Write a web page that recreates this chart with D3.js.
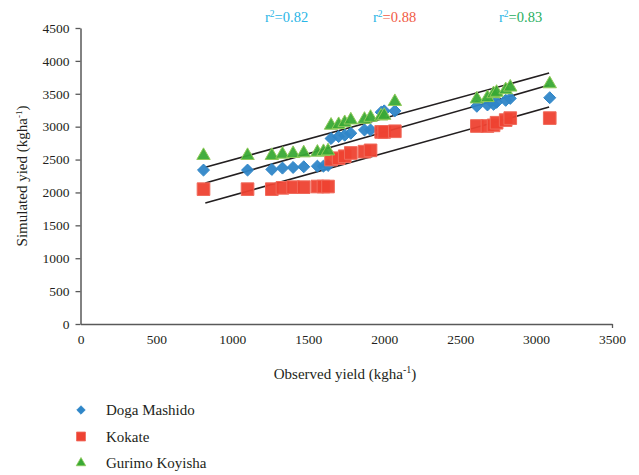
<!DOCTYPE html>
<html>
<head>
<meta charset="utf-8">
<script src="https://cdn.jsdelivr.net/npm/d3@7"></script>
<style>
  body { margin: 0; background: #fff; }
</style>
</head>
<body>
<svg id="chart" width="639" height="475"></svg>
<script>
// observed yield (x) shared by the three sites
var observed = [810, 1100, 1260, 1330, 1400, 1470, 1560, 1600, 1630, 1650, 1700, 1740, 1780, 1870, 1910, 1980, 2000, 2070, 2610, 2680, 2720, 2740, 2800, 2830, 3090];

var dogaMashido = [2340, 2340, 2350, 2370, 2380, 2390, 2400, 2400, 2410, 2820, 2850, 2870, 2900, 2950, 2950, 3220, 3240, 3240, 3310, 3330, 3340, 3370, 3400, 3430, 3440];
var kokate = [2050, 2050, 2050, 2070, 2080, 2080, 2090, 2090, 2090, 2500, 2520, 2550, 2600, 2620, 2640, 2920, 2920, 2930, 3010, 3010, 3020, 3060, 3100, 3130, 3130];
var gurimoKoyisha = [2560, 2560, 2560, 2580, 2590, 2600, 2610, 2620, 2630, 3020, 3030, 3060, 3100, 3110, 3140, 3160, 3170, 3380, 3420, 3440, 3500, 3520, 3560, 3600, 3650];

// fit lines [x0, y0, x1, y1]
var fitGurimo = [822, 2383, 3086, 3815];
var fitDoga = [822, 2143, 3086, 3632];
var fitKokate = [822, 1839, 3086, 3298];

var xTicks = [0, 500, 1000, 1500, 2000, 2500, 3000, 3500];
var yTicks = [0, 500, 1000, 1500, 2000, 2500, 3000, 3500, 4000, 4500];

var svg = d3.select("#chart");
var serif = "'Liberation Serif', 'Times New Roman', serif";

var x = d3.scaleLinear().domain([0, 3500]).range([80.5, 612]);
var y = d3.scaleLinear().domain([0, 4500]).range([324, 28]);

var axisColor = "#595959";

// axes
var xAxis = svg.append("g")
  .attr("transform", "translate(0,324)")
  .call(d3.axisBottom(x).tickValues(xTicks).tickFormat(d3.format("d")).tickSize(0).tickPadding(10).tickSizeOuter(0));
var yAxis = svg.append("g")
  .attr("transform", "translate(80.5,0)")
  .call(d3.axisLeft(y).tickValues(yTicks).tickFormat(d3.format("d")).tickSize(5).tickPadding(6).tickSizeOuter(0));

[xAxis, yAxis].forEach(function(a) {
  a.attr("font-family", serif).attr("font-size", 13.5);
  a.select(".domain").attr("stroke", axisColor).attr("stroke-width", 1.5);
  a.selectAll(".tick line").attr("stroke", axisColor).attr("stroke-width", 1.3);
  a.selectAll(".tick text").attr("fill", "#231f20");
});
xAxis.select(".tick:last-of-type").append("line")
  .attr("y2", 4).attr("stroke", axisColor).attr("stroke-width", 1.3);

// fit lines
[fitGurimo, fitDoga, fitKokate].forEach(function(f) {
  svg.append("line")
    .attr("x1", x(f[0])).attr("y1", y(f[1]))
    .attr("x2", x(f[2])).attr("y2", y(f[3]))
    .attr("stroke", "#231f20").attr("stroke-width", 1.6);
});

var series = [
  { name: "Doga Mashido", values: dogaMashido, symbol: d3.symbolDiamond2, size: 92, fill: "#2f86c8", stroke: "#2f86c8" },
  { name: "Kokate", values: kokate, symbol: d3.symbolSquare, size: 160, fill: "#ee4232", stroke: "#f06a5b" },
  { name: "Gurimo Koyisha", values: gurimoKoyisha, symbol: d3.symbolTriangle, size: 78, fill: "#39a935", stroke: "#8fca5a" }
];

series.forEach(function(s) {
  var sym = d3.symbol().type(s.symbol).size(s.size);
  svg.append("g").selectAll("path")
    .data(s.values)
    .join("path")
    .attr("d", sym)
    .attr("transform", function(d, i) {
      return "translate(" + x(observed[i]) + "," + y(d) + ")";
    })
    .attr("fill", s.fill)
    .attr("fill-opacity", 0.95)
    .attr("stroke", s.stroke)
    .attr("stroke-width", 1);
});

// r² labels
var rLabels = [
  { x: 265, v: "=0.82", color: "#29b5e6" },
  { x: 373, v: "=0.88", color: "#f15a45" },
  { x: 499, v: "=0.83", color: "#27ae60" }
];
rLabels.forEach(function(r) {
  var t = svg.append("text").attr("x", r.x).attr("y", 22)
    .attr("font-family", serif)
    .attr("font-size", 14.5);
  t.append("tspan").attr("fill", "#29b5e6").text("r");
  t.append("tspan").attr("fill", "#29b5e6").attr("dy", -5).attr("font-size", 9.5).text("2");
  t.append("tspan").attr("fill", r.color).attr("dy", 5).text(r.v);
});

// axis titles
var xt = svg.append("text")
  .attr("x", 345).attr("y", 379)
  .attr("text-anchor", "middle")
  .attr("fill", "#231f20")
  .attr("font-family", serif)
  .attr("font-size", 15);
xt.append("tspan").text("Observed yield (kgha");
xt.append("tspan").attr("dy", -6).attr("font-size", 10).text("-1");
xt.append("tspan").attr("dy", 6).text(")");

var yt = svg.append("text")
  .attr("transform", "translate(27,176) rotate(-90)")
  .attr("text-anchor", "middle")
  .attr("fill", "#231f20")
  .attr("font-family", serif)
  .attr("font-size", 15);
yt.append("tspan").text("Simulated yied (kgha");
yt.append("tspan").attr("dy", -5).attr("font-size", 9).text("-1");
yt.append("tspan").attr("dy", 5).text(")");

// legend
var legend = svg.append("g").attr("font-family", serif);
series.forEach(function(s, i) {
  var ly = 410 + i * 26.5;
  legend.append("path")
    .attr("d", d3.symbol().type(s.symbol).size(s.size * 0.5)())
    .attr("transform", "translate(81," + ly + ")")
    .attr("fill", s.fill)
    .attr("stroke", s.stroke)
    .attr("stroke-width", 0.8);
  legend.append("text")
    .attr("x", 106).attr("y", ly + 5)
    .attr("fill", "#231f20")
    .attr("font-size", 15)
    .text(s.name);
});
</script>
</body>
</html>
